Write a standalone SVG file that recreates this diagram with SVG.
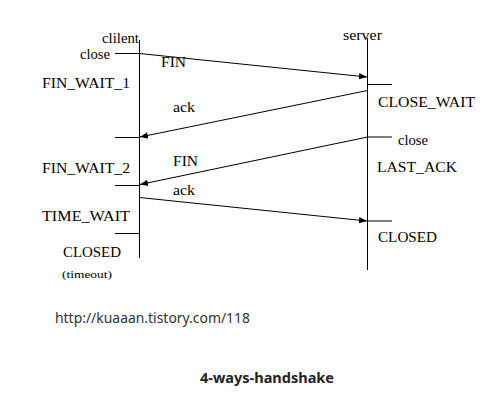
<svg xmlns="http://www.w3.org/2000/svg" width="490" height="411" viewBox="0 0 490 411">
<style>
.ln{stroke:#000;stroke-width:1;fill:none}
.lb{font-family:"Liberation Serif","Times New Roman",serif;font-size:15.5px;fill:#000}
.sm{font-family:"Liberation Serif","Times New Roman",serif;font-size:14.5px;fill:#000}
.tn{font-family:"Liberation Serif","Times New Roman",serif;font-size:11px;fill:#000}
.url{font-family:"Noto Sans","Open Sans",sans-serif;font-size:14.5px;fill:#333}
.ttl{font-family:"Noto Sans","Open Sans",sans-serif;font-size:14px;font-weight:bold;fill:#222}
</style>
<defs>
<marker id="ah" viewBox="0 0 10 10" refX="10" refY="5" markerWidth="8" markerHeight="8" markerUnits="userSpaceOnUse" orient="auto">
<path d="M0,1 L10,5 L0,9 Z" fill="#000"/>
</marker>
</defs>
<rect width="490" height="411" fill="#fff"/>
<g id="client">
<line class="ln" x1="139.5" y1="40" x2="139.5" y2="258"/>
<text class="sm" x="102" y="43" textLength="37" lengthAdjust="spacingAndGlyphs">clilent</text>
<line class="ln" x1="115" y1="53.5" x2="139.5" y2="53.5"/>
<text class="sm" x="80" y="59" textLength="30" lengthAdjust="spacingAndGlyphs">close</text>
<text class="lb" x="42" y="88" textLength="88" lengthAdjust="spacingAndGlyphs">FIN_WAIT_1</text>
<line class="ln" x1="115" y1="137.5" x2="139.5" y2="137.5"/>
<text class="lb" x="42" y="173" textLength="88" lengthAdjust="spacingAndGlyphs">FIN_WAIT_2</text>
<line class="ln" x1="115" y1="185.5" x2="139.5" y2="185.5"/>
<text class="lb" x="42" y="221" textLength="88" lengthAdjust="spacingAndGlyphs">TIME_WAIT</text>
<line class="ln" x1="115" y1="233.5" x2="139.5" y2="233.5"/>
<text class="lb" x="63" y="257" textLength="58" lengthAdjust="spacingAndGlyphs">CLOSED</text>
<text class="tn" x="62" y="278" textLength="50" lengthAdjust="spacingAndGlyphs">(timeout)</text>
</g>
<g id="server">
<line class="ln" x1="367.5" y1="38" x2="367.5" y2="270"/>
<text class="sm" x="343" y="40" textLength="39" lengthAdjust="spacingAndGlyphs">server</text>
<line class="ln" x1="367.5" y1="84.5" x2="392" y2="84.5"/>
<text class="lb" x="378" y="107" textLength="97" lengthAdjust="spacingAndGlyphs">CLOSE_WAIT</text>
<line class="ln" x1="367.5" y1="137" x2="392" y2="137"/>
<text class="sm" x="398" y="145" textLength="30" lengthAdjust="spacingAndGlyphs">close</text>
<text class="lb" x="377" y="172" textLength="80" lengthAdjust="spacingAndGlyphs">LAST_ACK</text>
<line class="ln" x1="367.5" y1="221" x2="392" y2="221"/>
<text class="lb" x="378" y="242" textLength="59" lengthAdjust="spacingAndGlyphs">CLOSED</text>
</g>
<g id="connectors">
<line class="ln" x1="139.5" y1="53.5" x2="367" y2="77" marker-end="url(#ah)"/>
<line class="ln" x1="367.5" y1="90.5" x2="140" y2="137" marker-end="url(#ah)"/>
<line class="ln" x1="367.5" y1="137" x2="140" y2="184.5" marker-end="url(#ah)"/>
<line class="ln" x1="139.5" y1="197.5" x2="367" y2="221" marker-end="url(#ah)"/>
<text class="lb" x="161" y="67" textLength="25" lengthAdjust="spacingAndGlyphs">FIN</text>
<text class="sm" x="173" y="112" textLength="22" lengthAdjust="spacingAndGlyphs">ack</text>
<text class="lb" x="173" y="166" textLength="25" lengthAdjust="spacingAndGlyphs">FIN</text>
<text class="sm" x="173" y="195" textLength="22" lengthAdjust="spacingAndGlyphs">ack</text>
</g>
<text class="url" x="55" y="323" textLength="195" lengthAdjust="spacingAndGlyphs">http://kuaaan.tistory.com/118</text>
<text class="ttl" x="200" y="383" textLength="134" lengthAdjust="spacingAndGlyphs">4-ways-handshake</text>
</svg>
